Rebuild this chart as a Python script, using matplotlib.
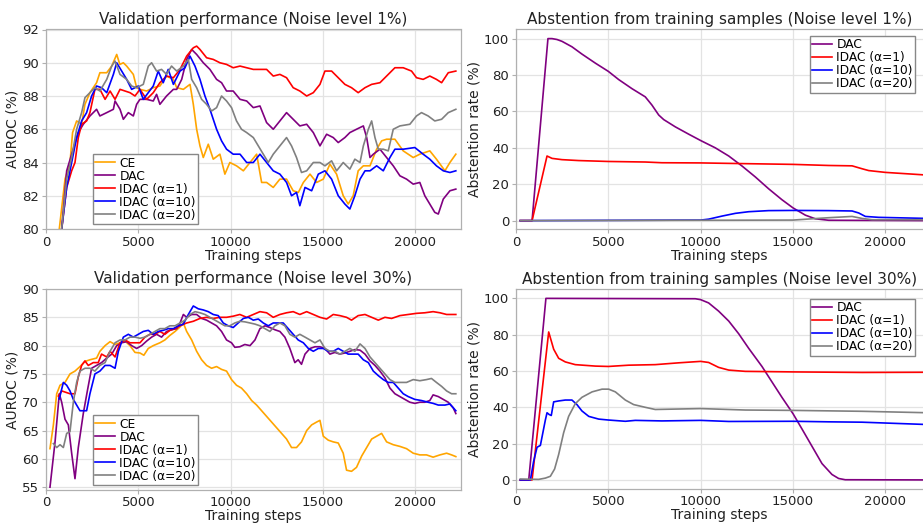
import matplotlib
matplotlib.use("Agg")
import matplotlib.pyplot as plt

plt.rcParams['font.family'] = ['DejaVu Sans']

labels_val = ["CE", "DAC", "IDAC (α=1)", "IDAC (α=10)", "IDAC (α=20)"]
labels_abs = ["DAC", "IDAC (α=1)", "IDAC (α=10)", "IDAC (α=20)"]
col_val = ["#FFA500", "#800080", "#FF0000", "#0000FF", "#808080"]
col_abs = ["#800080", "#FF0000", "#0000FF", "#808080"]

# ---- Validation performance, noise 1% : (training step, AUROC %)
ce_1 = [(500,76),(720,80),(1030,83),(1300,84),(1440,85.8),(1660,86.5),(1930,86.3),(2110,87.5),(2380,88.2),(2740,88.8),(2920,89.4),(3290,89.4),(3560,89.8),(3830,90.5),(4000,89.9),(4190,90.0),(4370,89.8),(4730,89.3),(4910,88.5),(5090,88.4),(5450,88.3),(5810,88.5),(6170,88.6),(6530,89.2),(6900,89.0),(7080,88.5),(7440,88.4),(7800,88.7),(7980,87.5),(8160,86),(8340,85.0),(8520,84.3),(8790,85.1),(9060,84.2),(9420,84.5),(9690,83.3),(9960,84.0),(10320,83.8),(10690,83.5),(11050,84.0),(11410,84.5),(11680,82.8),(11950,82.8),(12310,82.5),(12670,83.0),(13030,83.0),(13390,82.3),(13670,82.2),(13940,82.8),(14300,83.3),(14660,82.8),(15020,83.0),(15380,83.9),(15740,83.3),(16100,82.0),(16370,81.5),(16640,82.0),(16910,83.5),(17190,83.8),(17550,83.8),(17910,84.8),(18180,85.3),(18450,85.4),(18900,85.4),(19350,84.7),(19890,84.3),(20250,84.5),(20790,84.7),(21150,84.2),(21610,83.5),(21880,84.0),(22200,84.5)]
dac_1 = [(600,76),(850,80),(1120,83.5),(1390,84.5),(1750,85.8),(2020,86.3),(2380,86.8),(2740,87.2),(2920,86.8),(3290,87.0),(3650,87.2),(3740,87.7),(4010,87.2),(4190,86.6),(4460,87.0),(4730,86.8),(4910,87.5),(5090,87.8),(5450,87.8),(5810,87.7),(5990,88.1),(6170,87.5),(6530,88.0),(6900,88.4),(7080,88.4),(7350,89.0),(7620,90.2),(7890,90.8),(8160,90.5),(8520,90.0),(8880,89.6),(9240,89.0),(9510,88.8),(9780,88.3),(10140,88.3),(10510,87.8),(10870,87.7),(11230,87.3),(11590,87.4),(11950,86.4),(12310,86.0),(12670,86.5),(13030,87.0),(13390,86.6),(13750,86.2),(14120,86.3),(14480,85.8),(14840,85.0),(15200,85.7),(15560,85.5),(15830,85.2),(16190,85.5),(16460,85.8),(16820,86.0),(17190,86.2),(17370,85.5),(17550,84.3),(17730,84.5),(18090,84.8),(18450,84.3),(18810,83.8),(19170,83.2),(19530,83.0),(19890,82.7),(20250,82.8),(20520,82.0),(20790,81.5),(21060,81.0),(21250,80.9),(21520,81.8),(21880,82.3),(22200,82.4)]
idac1_1 = [(600,76),(850,80),(1120,82.5),(1390,83.5),(1570,84.0),(1750,85.5),(1930,86.3),(2200,86.5),(2380,87.0),(2650,88.4),(2920,88.4),(3200,87.8),(3470,88.3),(3740,87.8),(4010,88.4),(4280,88.3),(4550,88.2),(4820,88.0),(5090,88.4),(5450,87.8),(5810,88.2),(6170,88.8),(6530,89.2),(6900,89.1),(7260,89.6),(7620,90.4),(7980,90.9),(8160,91.0),(8340,90.8),(8700,90.3),(9060,90.2),(9420,90.0),(9780,89.9),(10140,89.7),(10510,89.8),(10870,89.7),(11230,89.6),(11590,89.6),(11950,89.6),(12310,89.2),(12670,89.3),(13030,89.1),(13390,88.5),(13750,88.3),(14120,88.0),(14480,88.2),(14840,88.7),(15110,89.5),(15470,89.5),(15830,89.1),(16190,88.7),(16550,88.5),(16910,88.2),(17280,88.5),(17640,88.7),(18090,88.8),(18540,89.3),(18900,89.7),(19350,89.7),(19800,89.5),(20070,89.1),(20430,89.0),(20790,89.2),(21150,89.0),(21430,88.8),(21790,89.4),(22200,89.5)]
idac10_1 = [(600,76),(850,80),(1120,82.5),(1390,84.0),(1660,85.5),(1930,86.5),(2200,87.0),(2470,88.0),(2740,88.6),(3010,88.5),(3290,88.2),(3650,89.3),(3830,90.0),(4100,89.5),(4370,89.0),(4640,88.4),(5000,88.6),(5270,87.8),(5540,88.2),(5810,88.6),(6080,89.5),(6350,88.8),(6620,89.6),(6900,88.7),(7260,89.5),(7530,89.7),(7800,90.4),(8070,89.8),(8340,89.0),(8610,88.0),(8880,87.2),(9240,86.0),(9510,85.3),(9780,84.8),(10140,84.5),(10510,84.5),(10870,84.0),(11230,84.0),(11590,84.5),(11950,84.0),(12310,83.5),(12670,83.3),(13030,82.8),(13300,82.0),(13570,82.2),(13750,81.4),(14030,82.5),(14390,82.3),(14750,83.3),(15110,83.5),(15470,83.0),(15830,82.0),(16190,81.5),(16460,81.2),(16730,82.0),(17010,83.0),(17280,83.5),(17550,83.5),(17910,83.8),(18270,83.5),(18630,84.3),(18900,84.8),(19350,84.8),(19980,84.9),(20430,84.5),(20790,84.2),(21150,83.8),(21520,83.5),(21880,83.4),(22200,83.5)]
idac20_1 = [(600,76),(850,80),(1120,83.0),(1390,84.3),(1660,86.0),(1930,87.0),(2110,87.9),(2380,88.2),(2650,88.5),(2920,88.3),(3290,89.0),(3560,89.8),(3740,90.1),(4010,89.3),(4370,89.0),(4640,88.6),(4910,88.5),(5270,88.7),(5540,89.8),(5720,90.0),(5990,89.5),(6260,89.6),(6530,89.3),(6800,89.8),(7080,89.5),(7440,89.8),(7710,90.2),(7890,89.0),(8160,88.5),(8430,87.8),(8700,87.5),(8970,87.1),(9240,87.3),(9510,88.0),(9780,87.7),(10050,87.3),(10320,86.5),(10590,86.0),(10870,85.8),(11230,85.5),(11500,85.0),(11770,84.5),(12040,84.0),(12310,84.5),(12670,85.0),(13030,85.5),(13300,85.0),(13570,84.3),(13840,83.4),(14120,83.5),(14480,84.0),(14840,84.0),(15110,83.8),(15470,84.1),(15740,83.5),(16100,84.0),(16460,83.6),(16730,84.2),(17010,84.0),(17190,85.0),(17460,86.0),(17640,86.5),(17820,85.5),(18000,84.8),(18270,84.8),(18540,84.7),(18810,86.0),(19170,86.2),(19710,86.3),(20070,86.8),(20340,87.0),(20700,86.8),(21060,86.5),(21430,86.6),(21790,87.0),(22200,87.2)]

# ---- Validation performance, noise 30%
ce_30 = [(216,61.8),(400,66),(580,71.5),(760,73),(1030,73.5),(1300,75),(1570,75.5),(1840,76.3),(2110,77.2),(2380,77.5),(2740,77.8),(2920,79.0),(3200,80.0),(3470,80.7),(3740,80.2),(4010,80.5),(4280,80.8),(4550,80.0),(4820,78.8),(5090,78.7),(5300,78.3),(5540,79.5),(5810,80.0),(6170,80.5),(6440,81.0),(6710,81.8),(6990,82.5),(7260,83.3),(7440,84.0),(7620,82.5),(7890,81.0),(8160,79.0),(8430,77.5),(8700,76.5),(8970,76.0),(9240,76.3),(9510,75.8),(9780,75.5),(10050,74.0),(10320,73.0),(10590,72.5),(10870,71.5),(11140,70.3),(11410,69.5),(11680,68.5),(11950,67.5),(12220,66.5),(12490,65.5),(12760,64.5),(13030,63.5),(13300,62.0),(13570,62.0),(13840,63.0),(14120,65.0),(14390,66.0),(14660,66.5),(14840,66.8),(15020,64.0),(15290,63.3),(15560,63.0),(15830,62.8),(16100,61.0),(16280,58.0),(16550,57.8),(16820,58.5),(17100,60.5),(17370,62.0),(17640,63.5),(17910,64.0),(18180,64.5),(18450,63.0),(18810,62.5),(19170,62.2),(19530,61.8),(19890,61.0),(20250,60.7),(20610,60.7),(20970,60.3),(21340,60.7),(21700,61.0),(21970,60.7),(22200,60.4)]
dac_30 = [(216,55.0),(490,63),(720,71.5),(850,70),(1030,67),(1210,66),(1390,61),(1570,56.5),(1750,62),(2020,68),(2240,72),(2470,76),(2740,76.5),(3010,77.0),(3290,77.8),(3560,78.5),(3830,80.0),(4100,80.5),(4370,80.7),(4640,80.0),(4910,79.5),(5180,80.0),(5450,80.8),(5720,81.5),(5990,82.0),(6260,81.5),(6530,82.5),(6800,82.8),(7080,83.0),(7260,84.0),(7440,85.5),(7620,85.0),(7890,85.5),(8160,85.5),(8430,84.8),(8700,84.5),(8970,84.0),(9240,83.5),(9510,82.5),(9780,81.0),(10050,80.5),(10230,79.7),(10500,79.8),(10770,80.2),(11050,80.0),(11320,81.0),(11590,83.0),(11860,83.5),(12130,83.2),(12400,82.8),(12670,82.5),(12940,81.5),(13210,79.5),(13480,77.0),(13660,77.5),(13840,76.7),(14030,78.5),(14300,79.5),(14570,79.8),(14840,79.8),(15110,79.5),(15380,78.5),(15650,78.8),(15920,78.5),(16190,78.7),(16460,79.0),(16730,79.3),(17010,79.2),(17280,78.5),(17550,77.3),(17820,76.5),(18090,75.5),(18360,74.3),(18630,72.5),(18900,71.5),(19170,71.0),(19440,70.5),(19710,70.0),(19980,69.8),(20250,70.0),(20520,70.0),(20790,70.3),(20970,71.3),(21250,71.0),(21520,70.5),(21790,70.0),(22060,69.0),(22200,68.0)]
idac1_30 = [(670,71.1),(850,72.0),(1030,71.8),(1300,71.5),(1570,71.5),(1750,74.5),(1930,76.5),(2110,77.3),(2290,76.5),(2560,77.0),(2830,77.0),(3010,78.5),(3290,78.0),(3470,79.0),(3740,78.0),(4010,80.5),(4280,81.0),(4550,80.5),(4820,80.5),(5090,80.5),(5360,81.5),(5630,82.0),(5900,82.0),(6170,82.5),(6440,82.0),(6710,82.7),(6990,83.0),(7260,83.5),(7620,84.0),(7980,84.3),(8340,84.8),(8700,85.0),(9060,84.8),(9420,85.0),(9780,85.0),(10140,85.2),(10500,85.5),(10870,85.0),(11230,85.5),(11590,86.0),(11950,85.8),(12310,85.0),(12670,85.5),(13030,85.8),(13390,86.0),(13750,85.5),(14120,86.0),(14480,85.5),(14840,85.0),(15200,84.7),(15560,85.5),(15920,85.3),(16280,85.0),(16550,84.5),(16910,85.3),(17280,85.5),(17640,85.0),(18000,84.5),(18360,85.0),(18720,84.8),(19170,85.3),(19620,85.5),(20070,85.7),(20520,85.8),(20970,86.0),(21340,85.8),(21700,85.5),(22200,85.5)]
idac10_30 = [(720,70.6),(940,73.5),(1120,73.0),(1300,72.0),(1480,70.5),(1660,69.5),(1840,68.5),(2020,68.5),(2200,68.5),(2380,71.5),(2650,75.0),(2920,75.5),(3200,76.5),(3470,76.5),(3740,76.0),(3920,79.0),(4190,81.5),(4460,82.0),(4730,81.5),(5000,82.0),(5270,82.5),(5540,82.7),(5810,82.0),(6080,82.5),(6350,82.7),(6620,83.0),(6900,83.0),(7170,83.5),(7440,83.8),(7710,85.5),(7980,87.0),(8250,86.5),(8520,86.3),(8790,86.0),(9060,85.5),(9330,85.3),(9600,84.0),(9870,83.5),(10140,83.2),(10410,84.0),(10690,84.8),(10960,85.0),(11230,84.5),(11500,84.7),(11770,84.0),(12040,83.5),(12310,84.0),(12580,84.0),(12850,84.0),(13120,83.0),(13390,82.0),(13660,81.0),(13940,80.5),(14210,79.5),(14480,79.0),(14750,79.5),(15020,79.5),(15290,79.0),(15560,79.0),(15830,79.5),(16100,79.0),(16370,78.5),(16640,78.5),(16910,78.5),(17190,77.5),(17460,77.0),(17730,75.5),(18000,74.7),(18270,74.0),(18540,73.5),(18810,73.5),(19080,72.5),(19350,71.5),(19620,71.0),(19980,70.5),(20340,70.3),(20700,70.0),(20970,69.8),(21250,69.5),(21610,69.5),(21880,69.7),(22200,68.5)]
idac20_30 = [(400,62.7),(580,62.0),(760,62.5),(940,62.0),(1120,64.5),(1300,64.8),(1480,70.0),(1660,73.5),(1840,75.5),(2110,76.0),(2380,76.0),(2650,75.5),(2920,76.5),(3200,77.0),(3470,79.0),(3740,80.5),(4010,81.0),(4280,81.0),(4550,81.5),(4820,81.5),(5090,81.3),(5360,81.5),(5630,82.0),(5900,82.5),(6170,83.0),(6440,83.0),(6710,83.5),(6990,83.5),(7260,84.0),(7530,84.5),(7800,85.5),(8070,86.0),(8340,85.8),(8610,85.5),(8880,85.0),(9150,84.5),(9420,84.0),(9690,83.5),(9960,83.5),(10230,84.0),(10500,84.3),(10770,84.2),(11050,84.0),(11320,83.8),(11590,83.5),(11860,83.0),(12130,82.5),(12400,83.5),(12670,84.0),(12940,83.5),(13210,82.0),(13480,81.5),(13750,82.0),(14030,81.5),(14300,81.0),(14570,80.5),(14840,81.0),(15110,79.5),(15380,79.0),(15650,79.0),(15920,78.5),(16190,79.0),(16460,79.5),(16730,79.0),(17010,80.3),(17280,79.5),(17550,78.0),(17820,77.0),(18090,76.0),(18360,75.0),(18630,74.0),(18900,73.5),(19170,73.5),(19530,73.5),(19890,74.0),(20250,73.8),(20610,74.0),(20880,74.2),(21150,73.5),(21430,72.8),(21700,72.0),(21970,71.5),(22200,71.5)]

# ---- Abstention rate, noise 1% : (training step, %)
abs_dac_1 = [(230,0),(870,0),(1730,100),(1950,100),(2220,99.5),(2490,98.5),(3030,95.5),(3570,91.5),(4300,86.5),(5000,82),(5560,77.5),(6280,72.5),(7000,68),(7360,63.5),(7730,58),(8000,55.5),(8630,51.5),(9350,47.5),(10000,44),(10790,40),(11520,35.5),(12240,30),(12960,24),(13680,17.5),(14400,11.5),(15000,7),(15670,3.0),(16210,1.0),(16930,0.2),(22300,0)]
abs_idac1_1 = [(230,0),(870,0),(1680,35.5),(1950,34.2),(2490,33.5),(3390,33),(5000,32.5),(7000,32.2),(7900,31.8),(10000,31.7),(12420,31.3),(15000,30.9),(16930,30.3),(18200,30.1),(18740,28.5),(19100,27.5),(20000,26.5),(22300,25)]
abs_idac10_1 = [(230,0),(10000,0.3),(10430,0.8),(11160,2.5),(11880,4.0),(12600,4.9),(13680,5.5),(15000,5.6),(16930,5.5),(18200,5.3),(18560,4.2),(18920,2.3),(19640,1.8),(22300,1.2)]
abs_idac20_1 = [(230,0),(15000,0.3),(16030,1.0),(16930,1.6),(18200,2.3),(18740,1.2),(19280,0.5),(22300,0.5)]

# ---- Abstention rate, noise 30%
abs_dac_30 = [(230,0),(690,0),(1620,100),(9710,99.8),(10000,99.3),(10430,97.5),(10970,93),(11520,87.5),(12060,80.5),(12600,72.5),(13320,62.5),(13860,54),(14400,45.5),(15000,36.5),(15490,28),(16030,18.5),(16570,9),(17110,3),(17470,0.8),(17830,0.1),(22300,0)]
abs_idac1_30 = [(230,0),(870,0),(1770,81.5),(2040,72),(2310,67),(2670,65),(3210,63.5),(4300,62.7),(5000,62.5),(6100,63.2),(7540,63.5),(8810,64.5),(10000,65.3),(10430,64.7),(10970,62),(11520,60.5),(12420,59.8),(15000,59.5),(18740,59.2),(22300,59.3)]
abs_idac10_30 = [(230,0),(780,0),(950,10),(1140,18),(1320,19),(1590,33),(1680,37),(1800,36),(1910,35.5),(2040,43),(2310,43.5),(2670,44),(3030,44),(3300,41.5),(3570,38),(3940,35),(4480,33.5),(5000,33),(5920,32.3),(6460,32.8),(7900,32.5),(10000,32.8),(11520,32.2),(15000,32.3),(16930,32.0),(18740,31.8),(22300,30.5)]
abs_idac20_30 = [(230,0.5),(1230,0.3),(1590,1),(1860,2),(2090,6),(2310,14),(2580,26),(2850,35),(3210,42),(3570,45.5),(4120,48.5),(4660,50),(5020,50),(5380,48.5),(5920,44),(6370,41.5),(7000,40),(7540,38.8),(10000,39.3),(12420,38.5),(15000,38.3),(18740,37.8),(22300,37)]

W, H = 923, 523
fig = plt.figure(figsize=(W / 100, H / 100), dpi=100)

def px_axes(l, t, r, b):
    return fig.add_axes([l / W, 1 - b / H, (r - l) / W, (b - t) / H])

SPINE = "#b0b0b0"
GRID = "#e3e3e3"

def style(ax, title, ylabel, xlim, ylim, yticks, hide_right=False, xpad=2, xlabelpad=0):
    ax.set_xlim(*xlim)
    ax.set_ylim(*ylim)
    ax.set_xticks([0, 5000, 10000, 15000, 20000])
    ax.set_yticks(yticks)
    ax.grid(True, color=GRID, lw=0.9)
    ax.set_axisbelow(True)
    for s in ax.spines.values():
        s.set_color(SPINE)
        s.set_linewidth(0.9)
    if hide_right:
        ax.spines['right'].set_visible(False)
    ax.tick_params(labelsize=9.5, length=3, width=0.8, color=SPINE, pad=2, labelcolor="#222222")
    ax.tick_params(axis='x', pad=xpad)
    ax.set_title(title, fontsize=11, pad=4, color="#222222")
    ax.set_xlabel("Training steps", fontsize=10, labelpad=xlabelpad, color="#222222")
    ax.set_ylabel(ylabel, fontsize=10, labelpad=2, color="#222222")

def draw(ax, series, colors, labels):
    for data, c, lab in zip(series, colors, labels):
        xs = [p[0] for p in data]
        ys = [p[1] for p in data]
        ax.plot(xs, ys, color=c, lw=1.2, label=lab)

def legend(ax, loc, anchor):
    ax.legend(loc=loc, bbox_to_anchor=anchor, fontsize=8.8, frameon=True, fancybox=False,
              edgecolor="#888888", framealpha=1, labelspacing=0.0, handlelength=1.6,
              handletextpad=0.35, borderpad=0.2, borderaxespad=0)

ax1 = px_axes(46, 29.5, 461, 229)
draw(ax1, [ce_1, dac_1, idac1_1, idac10_1, idac20_1], col_val, labels_val)
style(ax1, "Validation performance (Noise level 1%)", "AUROC (%)", (0, 22480), (80, 92), [80, 82, 84, 86, 88, 90, 92])
legend(ax1, "lower left", ((93 - 46) / 415, 1 - (224 - 29.5) / 199.5))

ax2 = px_axes(516, 29.5, 923, 229)
draw(ax2, [abs_dac_1, abs_idac1_1, abs_idac10_1, abs_idac20_1], col_abs, labels_abs)
style(ax2, "Abstention from training samples (Noise level 1%)", "Abstention rate (%)", (0, 22040), (-4.6, 105), [0, 20, 40, 60, 80, 100], hide_right=True)
legend(ax2, "upper left", ((810 - 516) / 407, 1 - (36 - 29.5) / 199.5))

ax3 = px_axes(46, 289, 461, 490)
draw(ax3, [ce_30, dac_30, idac1_30, idac10_30, idac20_30], col_val, labels_val)
style(ax3, "Validation performance (Noise level 30%)", "AUROC (%)", (0, 22480), (54.5, 90), [55, 60, 65, 70, 75, 80, 85, 90], xpad=1.5, xlabelpad=-0.3)
legend(ax3, "lower left", ((93 - 46) / 415, 1 - (485 - 289) / 201))

ax4 = px_axes(516, 289.3, 923, 489)
draw(ax4, [abs_dac_30, abs_idac1_30, abs_idac10_30, abs_idac20_30], col_abs, labels_abs)
style(ax4, "Abstention from training samples (Noise level 30%)", "Abstention rate (%)", (0, 22040), (-5.0, 105), [0, 20, 40, 60, 80, 100], hide_right=True, xpad=1.5, xlabelpad=-0.3)
legend(ax4, "upper left", ((810 - 516) / 407, 1 - (298.7 - 289.3) / 199.7))

fig.savefig("out.png", dpi=100)
